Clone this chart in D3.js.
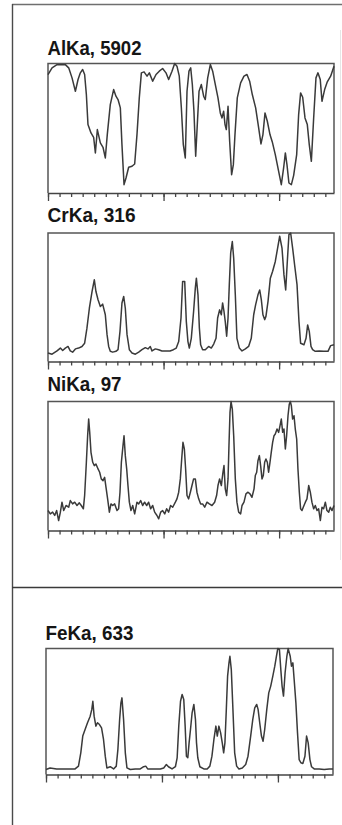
<!DOCTYPE html>
<html>
<head>
<meta charset="utf-8">
<script src="https://cdn.jsdelivr.net/npm/d3@7"></script>
<style>
  html, body { margin: 0; padding: 0; background: #fff; }
  svg { display: block; }
</style>
</head>
<body>
<svg id="chart" width="342" height="825"></svg>
<script>
// Line-scan profiles: position along the scan (arbitrary units) and X-ray counts.
const elements = ["AlKa", "CrKa", "NiKa", "FeKa"];
const maxCounts = [5902, 316, 97, 633];

const alKaPos = [0.00,0.35,0.78,1.50,1.79,2.08,2.37,2.60,2.80,3.00,3.17,3.32,3.46,3.72,3.95,4.10,4.27,4.53,4.76,4.96,5.13,5.39,5.68,5.88,6.06,6.26,6.40,6.58,6.75,6.98,7.27,7.50,7.70,7.90,8.08,8.31,8.57,8.77,9.06,9.35,9.63,9.92,10.21,10.44,10.73,10.96,11.16,11.36,11.54,11.71,11.88,12.03,12.20,12.35,12.49,12.63,12.78,12.92,13.07,13.27,13.47,13.61,13.82,14.05,14.25,14.48,14.71,14.91,15.06,15.20,15.32,15.43,15.58,15.72,15.89,16.04,16.18,16.38,16.67,16.96,17.22,17.45,17.68,17.97,18.23,18.43,18.60,18.78,18.98,19.21,19.41,19.67,19.96,20.19,20.39,20.54,20.68,20.85,21.06,21.26,21.52,21.69,21.86,22.04,22.24,22.44,22.61,22.79,22.99,23.19,23.36,23.56,23.71,23.94,24.17,24.46,24.75];
const alKaCounts = [5400,5704,5850,5850,5704,5247,4639,5171,5476,5628,5400,4487,3118,2738,2540,1825,2890,2282,2084,1597,2662,4031,4715,4411,4259,3879,2205,380,684,1171,1217,1323,2662,4335,5476,5521,5324,5476,5095,5400,5552,5673,5476,5171,5552,5902,5780,5324,3879,2205,1597,4639,5552,5704,4943,3726,1673,3118,4639,4943,4411,4259,5247,5856,5552,4943,4335,3650,3422,3726,3118,2890,3955,2358,837,1293,2662,4335,5019,5324,5400,5095,4487,3879,2966,2236,2662,3650,3270,2662,2327,1749,989,380,1141,1825,1293,456,380,806,1749,3574,4563,4365,3422,3118,2205,1445,3422,5247,5476,5171,4183,4715,5065,5324,5780];

const crKaPos = [0.00,0.35,0.78,1.07,1.27,1.50,1.73,1.93,2.13,2.37,2.65,2.94,3.17,3.37,3.58,3.81,4.01,4.15,4.33,4.53,4.73,4.96,5.11,5.25,5.39,5.60,5.88,6.06,6.23,6.40,6.55,6.69,6.84,7.04,7.27,7.56,7.85,8.13,8.42,8.65,8.85,9.00,9.29,9.58,9.86,10.21,10.56,10.85,11.10,11.31,11.51,11.65,11.83,11.97,12.11,12.23,12.40,12.60,12.75,12.84,12.98,13.10,13.21,13.38,13.61,13.90,14.13,14.34,14.54,14.68,14.85,15.00,15.11,15.23,15.34,15.46,15.58,15.69,15.81,15.95,16.07,16.21,16.35,16.56,16.79,17.08,17.36,17.59,17.80,17.97,18.17,18.32,18.46,18.60,18.75,18.86,19.04,19.24,19.44,19.67,19.87,20.05,20.25,20.42,20.57,20.71,20.85,21.00,21.17,21.34,21.55,21.72,21.86,22.01,22.15,22.33,22.47,22.61,22.76,22.90,23.13,23.48,23.85,24.23,24.46,24.75];
const crKaCounts = [21,18,26,33,27,33,37,26,23,31,33,37,45,82,131,172,201,172,152,135,141,115,66,37,25,23,25,29,74,144,160,131,66,29,21,18,23,29,34,31,37,26,31,29,26,26,26,29,33,49,107,197,197,98,49,33,57,123,181,205,164,82,41,29,29,37,33,43,57,107,127,115,144,123,98,62,107,189,267,295,254,164,57,33,26,31,37,57,115,140,164,176,152,115,103,111,148,205,222,246,279,308,279,213,176,246,312,316,279,238,189,98,45,43,41,57,90,74,37,29,25,26,25,25,39,41];

const niKaPos = [0.00,0.20,0.40,0.58,0.75,0.92,1.07,1.21,1.36,1.56,1.79,1.93,2.13,2.31,2.51,2.71,2.88,3.06,3.17,3.32,3.43,3.52,3.61,3.72,3.87,4.01,4.15,4.33,4.47,4.61,4.76,4.90,5.02,5.16,5.31,5.45,5.60,5.77,5.97,6.11,6.23,6.35,6.49,6.58,6.69,6.81,6.92,7.04,7.18,7.33,7.50,7.70,7.85,8.02,8.19,8.36,8.54,8.71,8.88,9.06,9.23,9.43,9.58,9.75,9.92,10.10,10.27,10.44,10.61,10.79,11.02,11.16,11.31,11.45,11.57,11.68,11.80,11.91,12.03,12.17,12.32,12.46,12.60,12.75,12.89,13.04,13.21,13.38,13.56,13.76,13.96,14.19,14.42,14.59,14.71,14.85,15.00,15.14,15.23,15.34,15.46,15.58,15.66,15.75,15.84,15.95,16.07,16.21,16.35,16.50,16.67,16.79,16.96,17.13,17.31,17.48,17.65,17.83,17.94,18.06,18.17,18.29,18.40,18.52,18.63,18.75,18.86,18.98,19.09,19.21,19.32,19.44,19.56,19.67,19.82,19.96,20.08,20.19,20.31,20.42,20.54,20.65,20.77,20.88,20.97,21.06,21.17,21.29,21.40,21.52,21.63,21.75,21.86,21.98,22.09,22.27,22.41,22.56,22.70,22.84,22.99,23.13,23.28,23.42,23.57,23.71,23.85,24.00,24.14,24.29,24.43,24.58,24.75];
const niKaCounts = [15.0,12.5,13.8,11.3,15.0,7.5,13.8,21.3,15.0,18.8,17.5,22.5,20.0,21.3,18.8,20.8,18.8,16.3,26.3,51.3,71.3,83.8,73.8,58.8,51.3,48.8,50.0,46.3,43.8,38.8,37.5,40.0,32.5,23.8,13.8,20.0,18.8,20.0,15.0,16.3,28.8,51.3,63.8,71.3,56.3,46.3,33.8,21.3,15.0,18.8,12.5,21.3,20.0,22.5,18.8,21.3,18.8,21.3,16.3,18.8,13.8,11.3,8.8,13.8,15.0,12.5,16.3,13.8,18.8,17.5,21.3,23.8,28.8,38.8,53.8,66.3,61.3,46.3,26.3,23.8,28.8,33.8,38.8,38.8,28.8,23.8,20.0,20.0,17.5,21.3,20.0,18.8,21.3,26.3,33.8,38.8,33.8,43.8,48.8,31.3,26.3,38.8,63.8,88.8,97,91.3,71.3,38.8,21.3,13.8,12.5,18.8,21.3,27.5,28.8,27.5,25.0,31.3,41.3,43.8,52.5,56.3,48.8,38.8,41.3,51.3,53.8,51.3,43.8,51.3,58.8,66.3,71.3,72.5,76.3,73.8,78.8,83.8,73.8,76.3,61.3,71.3,86.3,95.0,97,93.8,83.8,86.3,76.3,68.8,46.3,28.8,16.3,15.0,17.5,21.3,23.8,33.8,28.8,21.3,16.3,18.8,15.0,16.3,7.5,17.5,16.3,21.3,15.0,13.8,17.5,15.0,18.8];

const feKaPos = [0.00,0.35,0.92,1.50,2.08,2.51,2.80,3.00,3.17,3.37,3.58,3.81,3.95,4.04,4.15,4.30,4.44,4.61,4.79,4.96,5.11,5.25,5.54,5.83,6.06,6.20,6.35,6.46,6.55,6.69,6.84,6.98,7.27,7.70,8.13,8.42,8.60,8.77,9.29,9.86,10.15,10.38,10.56,10.87,11.16,11.31,11.45,11.60,11.74,11.88,12.00,12.11,12.23,12.34,12.46,12.60,12.75,12.89,12.98,13.09,13.27,13.61,13.90,14.13,14.31,14.48,14.65,14.77,14.91,15.06,15.20,15.32,15.43,15.55,15.66,15.78,15.86,15.98,16.12,16.27,16.44,16.64,16.93,17.22,17.42,17.65,17.83,18.00,18.17,18.29,18.43,18.58,18.72,18.86,19.04,19.21,19.38,19.56,19.73,19.87,19.99,20.13,20.25,20.36,20.48,20.62,20.77,20.88,21.06,21.17,21.29,21.40,21.55,21.69,21.83,21.98,22.15,22.33,22.47,22.61,22.76,22.90,23.13,23.56,23.99,24.43,24.75];
const feKaCounts = [25,33,28,28,28,28,42,109,193,226,260,293,327,368,293,243,260,251,234,176,92,33,39,28,42,126,276,360,385,276,109,33,25,28,28,39,42,28,28,28,33,50,39,28,39,84,243,368,402,377,243,92,84,159,226,310,352,276,159,84,39,28,28,42,92,176,243,193,243,209,159,109,159,327,494,561,594,527,327,109,42,28,33,50,92,193,276,335,352,327,260,193,167,226,327,410,444,494,544,594,633,628,527,444,394,511,594,633,594,544,561,477,360,209,75,59,55,92,193,159,75,39,28,28,25,28,28];

const seriesPos = [alKaPos, crKaPos, niKaPos, feKaPos];
const seriesCounts = [alKaCounts, crKaCounts, niKaCounts, feKaCounts];

// Scan axis: minor tick every unit, major every ten.
const xDomain = [0, 24.75];
const minorTicks = d3.range(0, 25);
const majorTicks = [0, 10, 20];

// Frame geometry for each plot box.
const boxes = [
  { left: 48, right: 334, top: 63.5, bottom: 193,   titleY: 55,  titleW: 94 },
  { left: 48, right: 334, top: 233,  bottom: 361.5, titleY: 221.5, titleW: 88 },
  { left: 48, right: 334, top: 401.5, bottom: 530.5, titleY: 391, titleW: 74 },
  { left: 46, right: 333, top: 648.5, bottom: 774.5, titleY: 640, titleW: 88 }
];

const svg = d3.select("#chart");

// Page frame: outer border and the divider between the two cells.
const frame = svg.append("g").attr("fill", "none");
frame.append("line").attr("x1", 12).attr("y1", 4.5).attr("x2", 342).attr("y2", 4.5)
  .attr("stroke", "#6f6f6f").attr("stroke-width", 1.6);
frame.append("line").attr("x1", 12.5).attr("y1", 4).attr("x2", 12.5).attr("y2", 825)
  .attr("stroke", "#4a4a4a").attr("stroke-width", 1.4);
frame.append("line").attr("x1", 12).attr("y1", 587.5).attr("x2", 342).attr("y2", 587.5)
  .attr("stroke", "#3a3a3a").attr("stroke-width", 1.4);
frame.append("line").attr("x1", 340.5).attr("y1", 30).attr("x2", 340.5).attr("y2", 560)
  .attr("stroke", "#e6e6e6").attr("stroke-width", 1);

elements.forEach((el, i) => {
  const b = boxes[i];
  const x = d3.scaleLinear().domain(xDomain).range([b.left, b.right]);
  const y = d3.scaleLinear().domain([0, maxCounts[i]]).range([b.bottom, b.top]);
  const g = svg.append("g");

  // Title: element line and its peak count
  g.append("text")
    .attr("x", b.left - 0.5)
    .attr("y", b.titleY)
    .attr("textLength", b.titleW)
    .attr("lengthAdjust", "spacingAndGlyphs")
    .attr("font-family", "'Liberation Sans', Arial, sans-serif")
    .attr("font-weight", "bold")
    .attr("font-size", 21)
    .attr("fill", "#151515")
    .text(`${el}, ${maxCounts[i]}`);

  // Box: left, top and right sides; the bottom is the axis line.
  g.append("path")
    .attr("d", `M${b.left},${b.bottom} V${b.top} H${b.right} V${b.bottom}`)
    .attr("fill", "none")
    .attr("stroke", "#555")
    .attr("stroke-width", 1.5);

  // Minor and major ticks hanging below the axis line.
  g.append("g")
    .attr("transform", `translate(0,${b.bottom})`)
    .call(d3.axisBottom(x).tickValues(minorTicks).tickSize(4).tickSizeOuter(0).tickFormat(""))
    .call(a => a.select(".domain").attr("stroke", "#444").attr("stroke-width", 1.5))
    .call(a => a.selectAll(".tick line").attr("stroke", "#444").attr("stroke-width", 1.3));
  g.append("g")
    .attr("transform", `translate(0,${b.bottom})`)
    .call(d3.axisBottom(x).tickValues(majorTicks).tickSize(8).tickSizeOuter(0).tickFormat(""))
    .call(a => a.select(".domain").remove())
    .call(a => a.selectAll(".tick line").attr("stroke", "#444").attr("stroke-width", 1.3));

  // Profile line
  const pts = seriesPos[i].map((p, k) => [p, seriesCounts[i][k]]);
  g.append("path")
    .datum(pts)
    .attr("fill", "none")
    .attr("stroke", "#3a3a3a")
    .attr("stroke-width", 1.5)
    .attr("stroke-linejoin", "round")
    .attr("d", d3.line().x(d => x(d[0])).y(d => y(d[1])));
});
</script>
</body>
</html>
